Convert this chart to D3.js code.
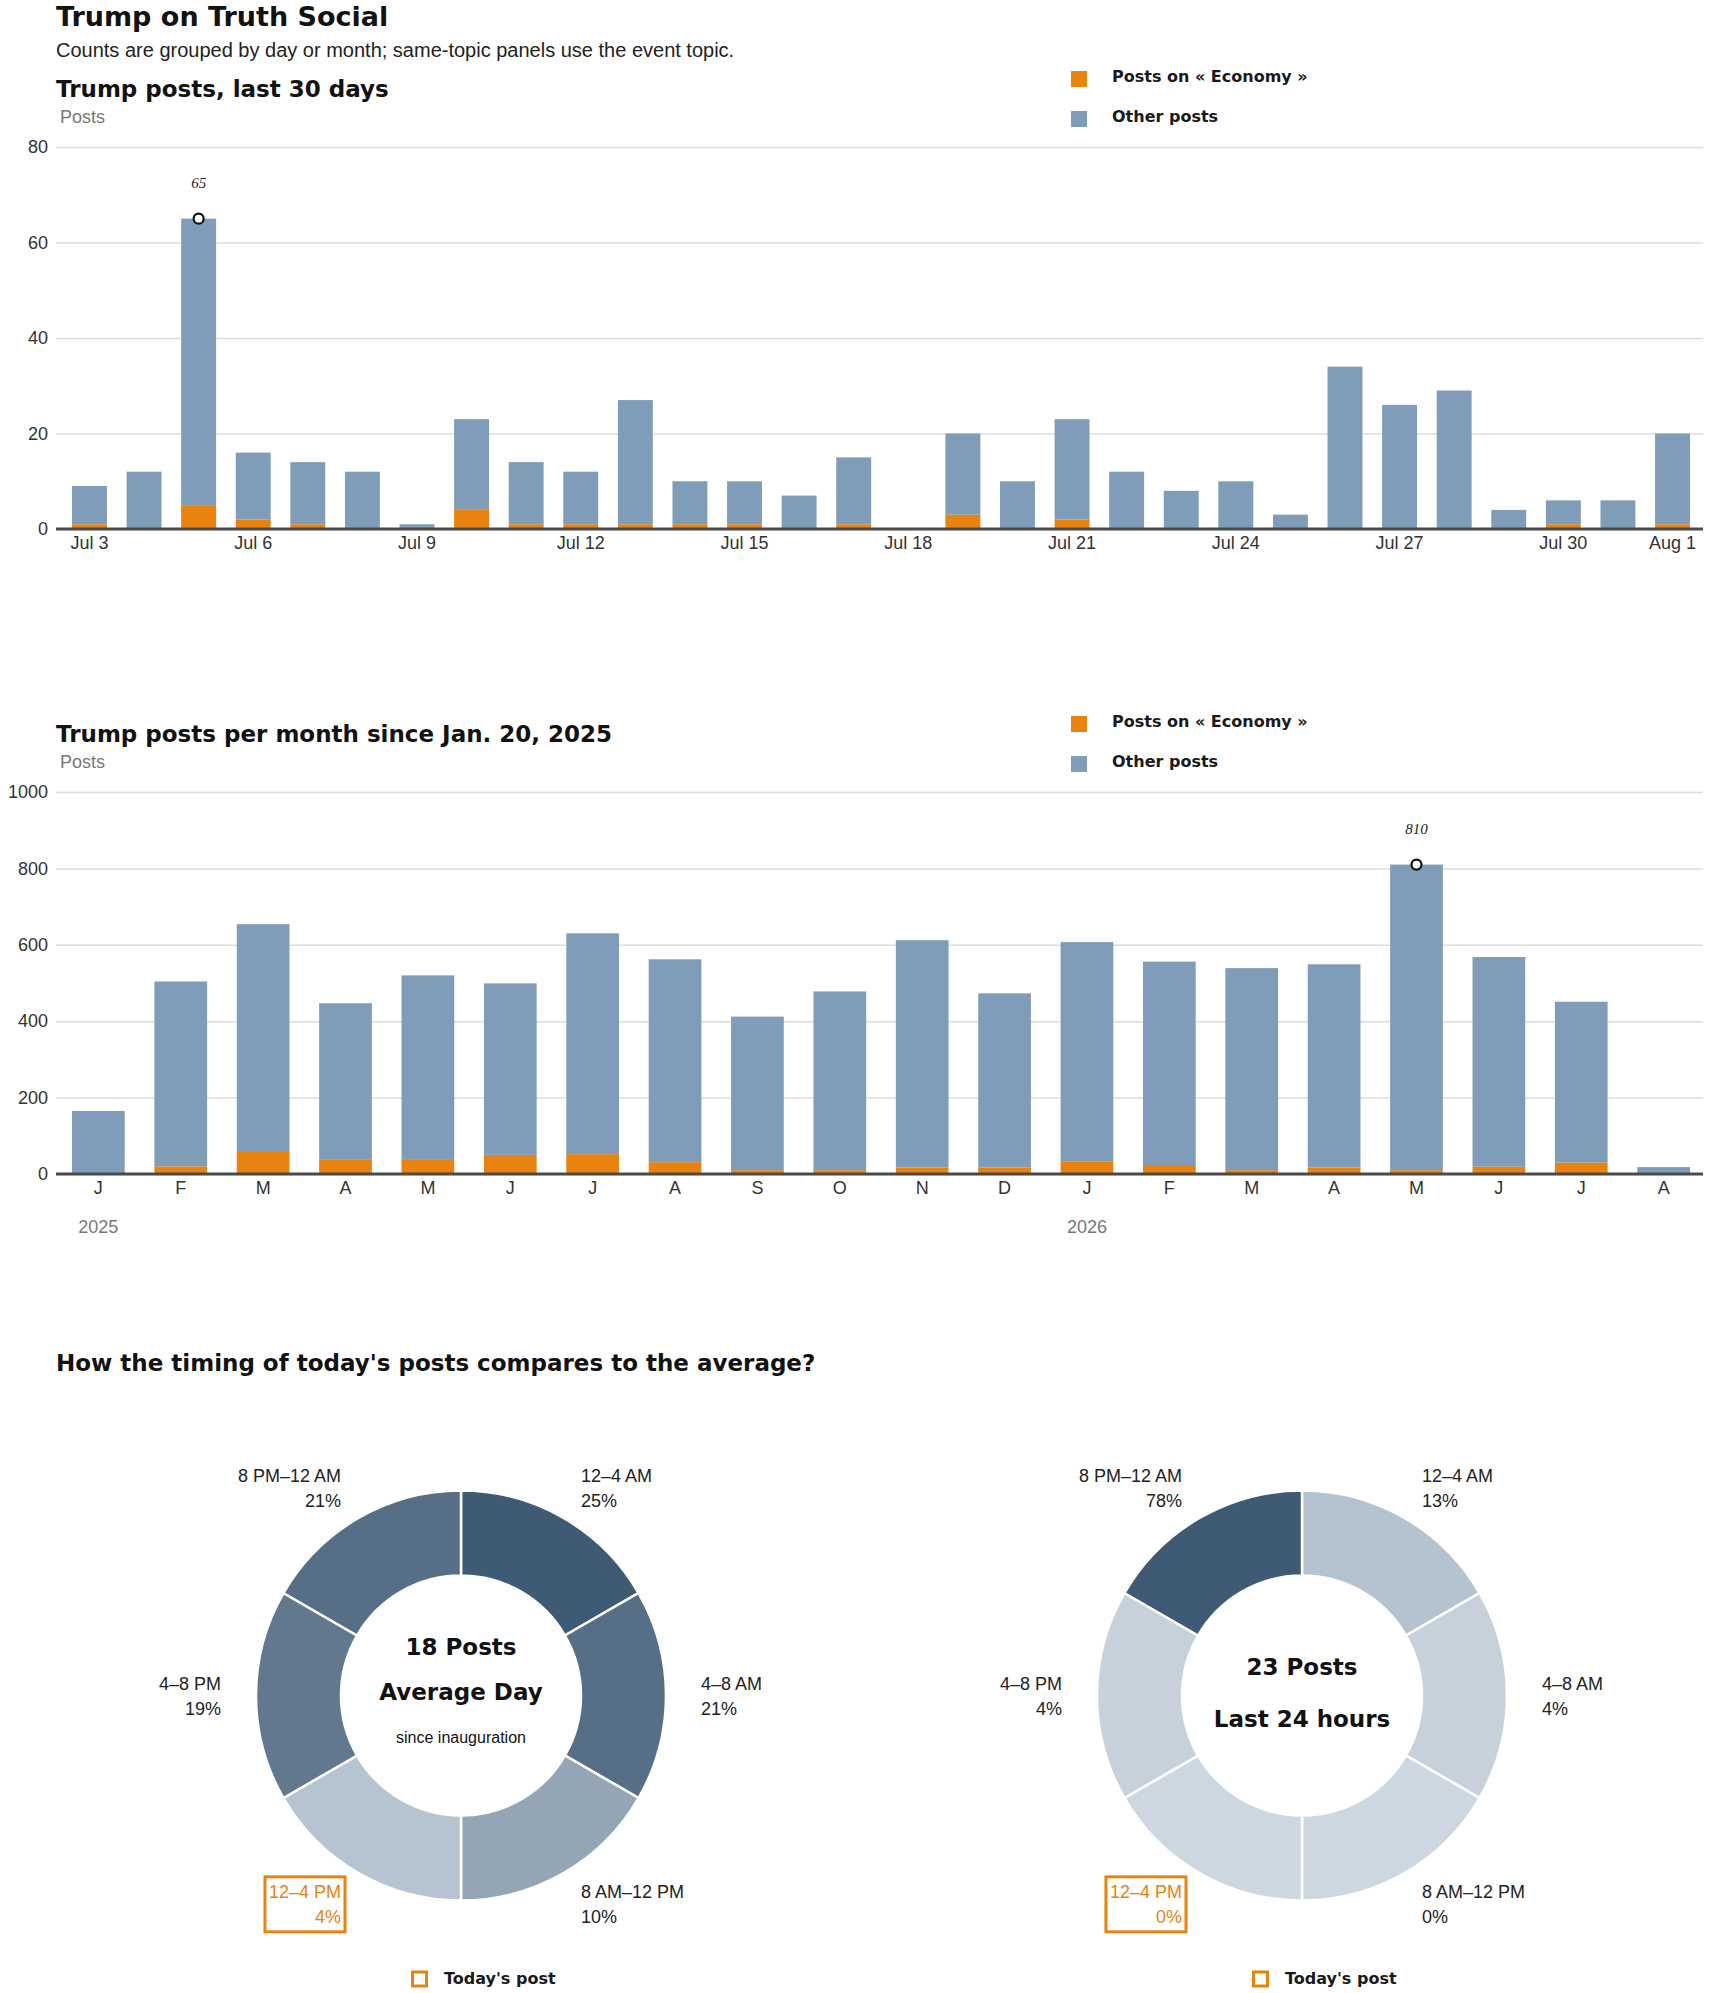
<!DOCTYPE html>
<html>
<head>
<meta charset="utf-8">
<script src="https://cdn.jsdelivr.net/npm/d3@7"></script>
<style>
  body { margin: 0; background: #fff; }
  svg { display: block; font-family: "Liberation Sans", Arial, sans-serif; }
  .tick text { font-size: 18px; fill: #333; }
  .heavy { font-family: "DejaVu Sans", "Liberation Sans", sans-serif; font-weight: bold; }
</style>
</head>
<body>
<div id="chart"></div>
<script>
// ---- data ----
const dayLabels = ["Jul 3", "Jul 4", "Jul 5", "Jul 6", "Jul 7", "Jul 8", "Jul 9", "Jul 10", "Jul 11", "Jul 12",
  "Jul 13", "Jul 14", "Jul 15", "Jul 16", "Jul 17", "Jul 18", "Jul 19", "Jul 20", "Jul 21", "Jul 22",
  "Jul 23", "Jul 24", "Jul 25", "Jul 26", "Jul 27", "Jul 28", "Jul 29", "Jul 30", "Jul 31", "Aug 1"];
const dayTickLabels = ["Jul 3", "Jul 6", "Jul 9", "Jul 12", "Jul 15", "Jul 18", "Jul 21", "Jul 24", "Jul 27", "Jul 30", "Aug 1"];
const dailyTotal = [9, 12, 65, 16, 14, 12, 1, 23, 14, 12, 27, 10, 10, 7, 15, 0, 20, 10, 23, 12, 8, 10, 3, 34, 26, 29, 4, 6, 6, 20];
const dailyEconomy = [1, 0, 5, 2, 1, 0, 0, 4, 1, 1, 1, 1, 1, 0, 1, 0, 3, 0, 2, 0, 0, 0, 0, 0, 0, 0, 0, 1, 0, 1];
const dailyTicks = [0, 20, 40, 60, 80];

const monthLabels = ["J", "F", "M", "A", "M", "J", "J", "A", "S", "O", "N", "D", "J", "F", "M", "A", "M", "J", "J", "A"];
const monthYears = [{ year: "2025", index: 0 }, { year: "2026", index: 12 }];
const monthTotal = [165, 504, 654, 447, 520, 499, 630, 562, 412, 478, 612, 473, 607, 556, 539, 549, 810, 568, 451, 18];
const monthEconomy = [0, 20, 60, 37, 39, 50, 52, 31, 10, 10, 17, 17, 32, 21, 10, 17, 10, 19, 30, 0];
const monthTicks = [0, 200, 400, 600, 800, 1000];

const slots = ["12–4 AM", "4–8 AM", "8 AM–12 PM", "12–4 PM", "4–8 PM", "8 PM–12 AM"];
const averageShare = [25, 21, 10, 4, 19, 21];
const todayShare = [13, 4, 0, 0, 4, 78];
const todaySlot = "12–4 PM";

const ORANGE = "#e8830f";
const BLUE = "#7f9db9";
const width = 1710, height = 1993;

const svg = d3.select("#chart").append("svg")
  .attr("width", width)
  .attr("height", height);

// header
svg.append("text").attr("class", "heavy").attr("x", 56).attr("y", 26)
  .style("font-size", "27px").attr("fill", "#121212")
  .text("Trump on Truth Social");
svg.append("text").attr("x", 56).attr("y", 57)
  .style("font-size", "20px").attr("fill", "#222")
  .text("Counts are grouped by day or month; same-topic panels use the event topic.");

function drawBarPanel(cfg) {
  const g = svg.append("g").attr("transform", `translate(0,${cfg.dy})`);
  const left = 56, right = 1703;

  const x = d3.scaleBand()
    .domain(d3.range(cfg.labels.length))
    .range([72, 1690])
    .paddingInner(0.36)
    .paddingOuter(0);
  const y = d3.scaleLinear().domain([0, cfg.max]).range([529, 147]);

  g.append("text").attr("class", "heavy").attr("x", 56).attr("y", 97)
    .style("font-size", "23px").attr("fill", "#121212")
    .text(cfg.title);
  g.append("text").attr("x", 60).attr("y", 123)
    .style("font-size", "18px").attr("fill", "#777")
    .text("Posts");

  // legend
  const legend = [{ label: "Posts on « Economy »", color: ORANGE }, { label: "Other posts", color: BLUE }];
  legend.forEach((d, i) => {
    g.append("rect").attr("x", 1071).attr("y", 71 + i * 40).attr("width", 16).attr("height", 16).attr("fill", d.color);
    g.append("text").attr("class", "heavy").attr("x", 1112).attr("y", 82 + i * 40)
      .style("font-size", "16px").attr("fill", "#1a1a1a")
      .text(d.label);
  });

  // grid + y ticks
  const yAxis = g.append("g")
    .attr("transform", `translate(${left},0)`)
    .call(d3.axisLeft(y).tickValues(cfg.ticks).tickSize(-(right - left)).tickPadding(8).tickFormat(d3.format("d")));
  yAxis.select(".domain").remove();
  yAxis.selectAll(".tick line").attr("stroke", "#dcdcdc").attr("stroke-width", 1.5);

  // stacked bars
  const rows = cfg.totals.map((t, i) => ({ economy: cfg.economy[i], other: t - cfg.economy[i] }));
  const series = d3.stack().keys(["economy", "other"])(rows);
  const colors = { economy: ORANGE, other: BLUE };
  g.append("g").selectAll("g")
    .data(series)
    .join("g")
    .attr("fill", s => colors[s.key])
    .selectAll("rect")
    .data(s => s.map((d, i) => ({ d, i })))
    .join("rect")
    .attr("x", o => x(o.i))
    .attr("width", x.bandwidth())
    .attr("y", o => y(o.d[1]))
    .attr("height", o => y(o.d[0]) - y(o.d[1]));

  // baseline
  g.append("line")
    .attr("x1", left).attr("x2", right)
    .attr("y1", y(0)).attr("y2", y(0))
    .attr("stroke", "#4a4a4a").attr("stroke-width", 3);

  // x labels
  const xAxis = g.append("g")
    .attr("transform", `translate(0,${y(0)})`)
    .call(d3.axisBottom(x).tickValues(cfg.tickIdx).tickSize(0).tickPadding(7).tickFormat(i => cfg.labels[i]));
  xAxis.select(".domain").remove();

  if (cfg.years) {
    g.selectAll(".year")
      .data(cfg.years)
      .join("text")
      .attr("x", d => x(d.index) + x.bandwidth() / 2)
      .attr("y", 1233 - 645)
      .attr("text-anchor", "middle")
      .style("font-size", "18px").attr("fill", "#777")
      .text(d => d.year);
  }

  // peak annotation
  const peak = d3.maxIndex(cfg.totals);
  const px = x(peak) + x.bandwidth() / 2;
  g.append("circle").attr("cx", px).attr("cy", y(cfg.totals[peak])).attr("r", 5)
    .attr("fill", "#fff").attr("stroke", "#111").attr("stroke-width", 2.2);
  g.append("text").attr("x", px).attr("y", y(cfg.totals[peak]) - 31)
    .attr("text-anchor", "middle")
    .style("font-family", "'Liberation Serif', serif").style("font-style", "italic").style("font-size", "15px")
    .attr("fill", "#222")
    .text(cfg.totals[peak]);
}

drawBarPanel({
  dy: 0, title: "Trump posts, last 30 days",
  labels: dayLabels, totals: dailyTotal, economy: dailyEconomy,
  max: 80, ticks: dailyTicks,
  tickIdx: dayTickLabels.map(l => dayLabels.indexOf(l))
});

drawBarPanel({
  dy: 645, title: "Trump posts per month since Jan. 20, 2025",
  labels: monthLabels, totals: monthTotal, economy: monthEconomy,
  max: 1000, ticks: monthTicks,
  tickIdx: d3.range(monthLabels.length),
  years: monthYears
});

// ---- donuts ----
svg.append("text").attr("class", "heavy").attr("x", 56).attr("y", 1371)
  .style("font-size", "23px").attr("fill", "#121212")
  .text("How the timing of today's posts compares to the average?");

function drawDonut(cx, cy, values, centerLines) {
  const g = svg.append("g").attr("transform", `translate(${cx},${cy})`);
  const color = d3.scaleLinear().domain([0, d3.max(values)]).range(["#cdd7e1", "#3f5a75"]);
  const pie = d3.pie().value(() => 1).sort(null);
  const arc = d3.arc().innerRadius(120).outerRadius(205);
  const arcs = pie(slots.map((s, i) => ({ slot: s, value: values[i] })));

  g.selectAll("path")
    .data(arcs)
    .join("path")
    .attr("d", arc)
    .attr("fill", d => color(d.data.value))
    .attr("stroke", "#fff").attr("stroke-width", 2.5);

  const labelArc = d3.arc().innerRadius(240).outerRadius(240);
  arcs.forEach(a => {
    const [lx, ly] = labelArc.centroid(a);
    const mid = (a.startAngle + a.endAngle) / 2;
    const anchor = Math.sin(mid) > 0 ? "start" : "end";
    const hot = a.data.slot === todaySlot;
    const t = g.append("text")
      .attr("text-anchor", anchor)
      .style("font-size", "18px")
      .attr("fill", hot ? ORANGE : "#222");
    t.append("tspan").attr("x", lx).attr("y", ly - 5.5).text(a.data.slot);
    t.append("tspan").attr("x", lx).attr("y", ly + 19.5).text(a.data.value + "%");
    if (hot) {
      const b = t.node().getBBox();
      g.append("rect")
        .attr("x", b.x - 4).attr("y", b.y - 5)
        .attr("width", b.width + 8).attr("height", b.height + 10)
        .attr("fill", "none").attr("stroke", ORANGE).attr("stroke-width", 3);
    }
  });

  centerLines.forEach(l => {
    g.append("text").attr("class", l.bold ? "heavy" : null).attr("x", 0).attr("y", l.y)
      .attr("text-anchor", "middle")
      .style("font-size", l.size + "px")
      .attr("fill", "#121212")
      .text(l.text);
  });

  // legend
  g.append("rect").attr("x", -48.5).attr("y", 276.5).attr("width", 14).attr("height", 14)
    .attr("fill", "none").attr("stroke", ORANGE).attr("stroke-width", 3);
  g.append("text").attr("class", "heavy").attr("x", -17).attr("y", 288)
    .style("font-size", "16px").attr("fill", "#1a1a1a")
    .text("Today's post");
}

drawDonut(461, 1695.5, averageShare, [
  { text: "18 Posts", y: -41, size: 23, bold: true },
  { text: "Average Day", y: 4, size: 23, bold: true },
  { text: "since inauguration", y: 47, size: 16 }
]);
drawDonut(1302, 1695.5, todayShare, [
  { text: "23 Posts", y: -21, size: 23, bold: true },
  { text: "Last 24 hours", y: 31, size: 23, bold: true }
]);
</script>
</body>
</html>
